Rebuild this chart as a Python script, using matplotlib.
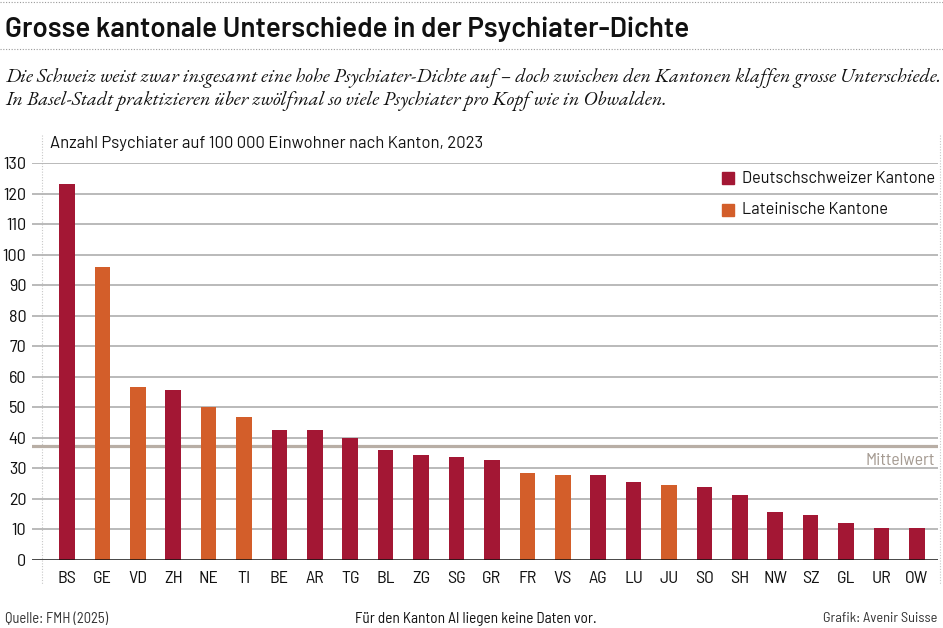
import matplotlib
matplotlib.use("Agg")
import matplotlib.pyplot as plt
from matplotlib.font_manager import FontProperties
from matplotlib.patches import Rectangle
from matplotlib.lines import Line2D

# ---------------- data ----------------
cantons = ["BS", "GE", "VD", "ZH", "NE", "TI", "BE", "AR", "TG", "BL", "ZG", "SG", "GR",
           "FR", "VS", "AG", "LU", "JU", "SO", "SH", "NW", "SZ", "GL", "UR", "OW"]
values = [123.0, 95.8, 56.5, 55.6, 50.0, 46.7, 42.5, 42.5, 40.1, 36.0, 34.4, 33.6, 32.6,
          28.6, 27.8, 27.8, 25.4, 24.4, 23.8, 21.3, 15.6, 14.7, 12.2, 10.6, 10.6]
groups = ["D", "L", "L", "D", "L", "L", "D", "D", "D", "D", "D", "D", "D",
          "L", "L", "D", "D", "L", "D", "D", "D", "D", "D", "D", "D"]
mean_value = 37.4
yticks = list(range(0, 131, 10))
legend_labels = {"D": "Deutschschweizer Kantone", "L": "Lateinische Kantone"}

title = "Grosse kantonale Unterschiede in der Psychiater-Dichte"
subtitle1 = "Die Schweiz weist zwar insgesamt eine hohe Psychiater-Dichte auf – doch zwischen den Kantonen klaffen grosse Unterschiede."
subtitle2 = "In Basel-Stadt praktizieren über zwölfmal so viele Psychiater pro Kopf wie in Obwalden."
chart_sub = "Anzahl Psychiater auf 100\u2009000 Einwohner nach Kanton, 2023"
source = "Quelle: FMH (2025)"
note = "Für den Kanton AI liegen keine Daten vor."
credit = "Grafik: Avenir Suisse"

colors = {"D": "#A31734", "L": "#D35E2A"}

# ---------------- fonts ----------------
SANS_C = ["Barlow Semi Condensed", "Roboto Condensed", "DejaVu Sans"]
SANS_W = ["Barlow", "Roboto", "DejaVu Sans"]
SERIF = ["EB Garamond", "Liberation Serif", "DejaVu Serif"]


def fp(size, weight="normal", family=SANS_C, style="normal"):
    return FontProperties(family=family, size=size, weight=weight, style=style)


# ---------------- figure ----------------
W, H = 943, 628
fig = plt.figure(figsize=(W / 100, H / 100), dpi=100)
fig.patch.set_facecolor("white")


def fx(px):
    return px / W


def fy(py):
    return 1 - py / H


# dotted separator lines
for yy in (2, 49):
    fig.add_artist(Line2D([0, 1], [fy(yy), fy(yy)], transform=fig.transFigure,
                          color="#9a9a9a", lw=0.8, ls=(0, (1, 1.5))))
for xx in (42, 940):
    fig.add_artist(Line2D([fx(xx), fx(xx)], [fy(135), fy(585)], transform=fig.transFigure,
                          color="#c8c8c8", lw=0.8, ls=(0, (1, 1.5)), zorder=0))

fig.text(fx(5), fy(37), title, fontproperties=fp(20, "semibold", SANS_W), color="#111111",
         ha="left", va="baseline")
fig.text(fx(5), fy(82), subtitle1, fontproperties=fp(14.5, family=SERIF, style="italic"),
         color="#111111", ha="left", va="baseline")
fig.text(fx(5), fy(105), subtitle2, fontproperties=fp(14.5, family=SERIF, style="italic"),
         color="#111111", ha="left", va="baseline")
fig.text(fx(50), fy(148), chart_sub, fontproperties=fp(12, family=SANS_W), color="#111111",
         ha="left", va="baseline")

# ---------------- axes ----------------
ax_left, ax_right, ax_bottom, ax_top = 32, 938, 560, 163
ax = fig.add_axes([fx(ax_left), fy(ax_bottom), fx(ax_right - ax_left), (ax_bottom - ax_top) / H])
ax.set_facecolor("none")
for s in ax.spines.values():
    s.set_visible(False)

x = list(range(len(cantons)))
ax.bar(x, values, width=0.44, color=[colors[g] for g in groups], zorder=4)
ax.set_xlim(-0.99, 24.6)
ax.set_ylim(0, 130)

for t in yticks[1:]:
    ax.axhline(t, color="#b4b4b4", lw=1.3, zorder=1)
ax.axhline(mean_value, color="#b8aea5", lw=2.3, zorder=2)
ax.axhline(0, color="#111111", lw=1.8, zorder=5)

ax.set_yticks(yticks)
ax.set_yticklabels([str(t) for t in yticks])
ax.set_xticks(x)
ax.set_xticklabels(cantons)
ax.tick_params(axis="both", length=0)
ax.tick_params(axis="y", pad=4)
ax.tick_params(axis="x", pad=8)
for lab in ax.get_yticklabels() + ax.get_xticklabels():
    lab.set_fontproperties(fp(13))
    lab.set_color("#111111")

ax.text(0.996, mean_value - 2.2, "Mittelwert", transform=ax.get_yaxis_transform(),
        fontproperties=fp(12.8), color="#a59b92", ha="right", va="top", zorder=6)

# legend (manual, no frame)
for i, g in enumerate(["D", "L"]):
    yc = 178 + i * 32
    fig.add_artist(Rectangle((fx(722), fy(yc + 6)), fx(12), 12 / H, transform=fig.transFigure,
                             color=colors[g], zorder=7))
    fig.text(fx(742), fy(yc), legend_labels[g], fontproperties=fp(11.8, family=SANS_W),
             color="#111111", ha="left", va="center")

# footer
fig.text(fx(5), fy(619), source, fontproperties=fp(10.5), color="#333333",
         ha="left", va="center")
fig.text(fx(476), fy(619), note, fontproperties=fp(11), color="#111111",
         ha="center", va="center")
fig.text(fx(937), fy(619), credit, fontproperties=fp(10.3), color="#333333",
         ha="right", va="center")

fig.savefig("out.png", dpi=100)
